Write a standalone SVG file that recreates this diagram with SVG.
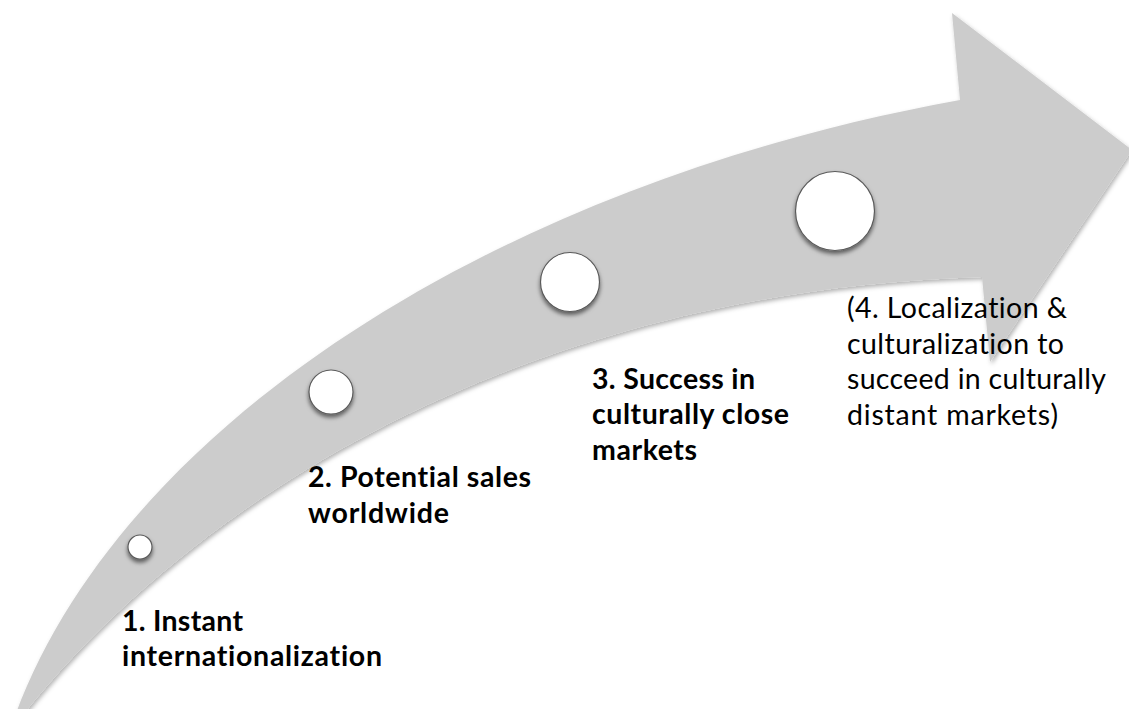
<svg xmlns="http://www.w3.org/2000/svg" width="1129" height="709" viewBox="0 0 1129 709">
  <defs>
    <filter id="arrowShadow" x="-5%" y="-5%" width="110%" height="115%">
      <feDropShadow dx="1.5" dy="2.5" stdDeviation="2" flood-color="#000" flood-opacity="0.3"/>
    </filter>
    <filter id="dotShadow" x="-30%" y="-30%" width="160%" height="170%">
      <feDropShadow dx="0" dy="3" stdDeviation="2.2" flood-color="#000" flood-opacity="0.55"/>
    </filter>
    <style>
      .band { fill: #cccccc; }
      .dot { fill: #ffffff; stroke: #5a5a5a; stroke-width: 1.2; filter: url(#dotShadow); }
      .lbl { font-family: Lato, "Liberation Sans", sans-serif; font-size: 28.5px; fill: #000;
             font-variant-ligatures: none; font-feature-settings: "liga" 0, "clig" 0; }
      .bold { font-weight: bold; }
    </style>
  </defs>

  <rect width="1129" height="709" fill="#ffffff"/>

  <!-- curved progress arrow -->
  <g id="arrow">
    <path class="band" filter="url(#arrowShadow)"
          d="M 15,716 C 120,430 490,185 960,100 L 952,13 L 1132,150 L 990,362 L 982,277 C 550,290 210,480 22,716 Z"/>
  </g>

  <!-- milestone dots along the arrow -->
  <g id="dot1"><circle class="dot" cx="140" cy="547" r="12"/></g>
  <g id="dot2"><circle class="dot" cx="331" cy="392" r="22"/></g>
  <g id="dot3"><circle class="dot" cx="570" cy="282" r="29.5"/></g>
  <g id="dot4"><circle class="dot" cx="835" cy="211" r="39.5"/></g>

  <!-- stage labels -->
  <g id="label1">
    <text class="lbl bold" x="122" y="631" textLength="121">1. Instant</text>
    <text class="lbl bold" x="122" y="666" textLength="260">internationalization</text>
  </g>
  <g id="label2">
    <text class="lbl bold" x="308" y="487" textLength="223">2. Potential sales</text>
    <text class="lbl bold" x="308" y="523" textLength="141">worldwide</text>
  </g>
  <g id="label3">
    <text class="lbl bold" x="592" y="389" textLength="163">3. Success in</text>
    <text class="lbl bold" x="592" y="424" textLength="197">culturally close</text>
    <text class="lbl bold" x="592" y="460" textLength="105">markets</text>
  </g>
  <g id="label4">
    <text class="lbl" x="847" y="318" textLength="220">(4. Localization &amp;</text>
    <text class="lbl" x="847" y="354" textLength="217">culturalization to</text>
    <text class="lbl" x="847" y="389" textLength="259">succeed in culturally</text>
    <text class="lbl" x="847" y="425" textLength="211">distant markets)</text>
  </g>
</svg>
